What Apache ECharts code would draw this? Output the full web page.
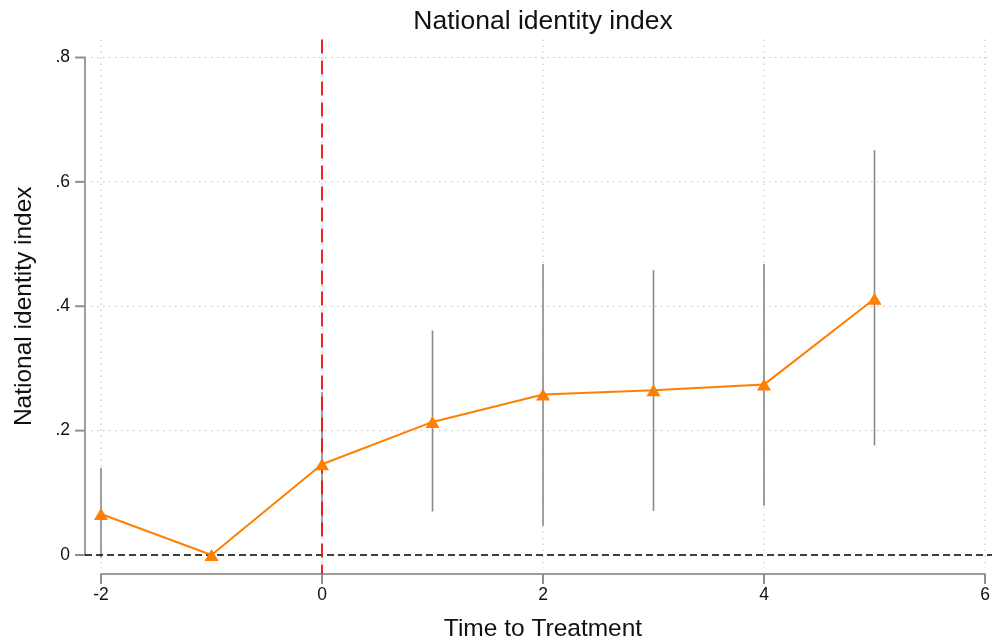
<!DOCTYPE html>
<html>
<head>
<meta charset="utf-8">
<script src="https://cdn.jsdelivr.net/npm/echarts@6/dist/echarts.min.js"></script>
<style>
  html, body { margin: 0; padding: 0; background: #fff; }
  #chart { width: 992px; height: 640px; }
</style>
</head>
<body>
<div id="chart"></div>
<script>
// Event-study estimates of the national identity index
const periods   = [-2, -1, 0, 1, 2, 3, 4, 5];
const estimates = [0.066, 0, 0.146, 0.214, 0.258, 0.265, 0.274, 0.412];
const ciLower   = [-0.004, null, 0.033, 0.070, 0.047, 0.071, 0.079, 0.176];
const ciUpper   = [0.140, null, 0.262, 0.361, 0.468, 0.458, 0.468, 0.651];

// Axis ticks
const xTicks = [-2, 0, 2, 4, 6];
const yTicks = [0, 0.2, 0.4, 0.6, 0.8];
const yGridTicks = [0.2, 0.4, 0.6, 0.8];
const treatmentStart = 0;

const FONT = '"Liberation Sans", Arial, Helvetica, sans-serif';
const AXIS_GREY = '#9e9e9e';
const TICK_GREY = '#8f8f8f';
const X_OFFSET = 19;   // x axis sits below the plotted range
const Y_OFFSET = 16;   // y axis sits left of the plotted range
const TICK_LEN = 10;

const chart = echarts.init(document.getElementById('chart'), null, { renderer: 'canvas' });

const pointData = periods.map((p, i) => [p, estimates[i]]);
const ciData = periods
  .map((p, i) => [p, ciLower[i], ciUpper[i]])
  .filter(d => d[1] !== null);

// vertical grid lines first, then horizontal ones
const gridData = xTicks.map(v => [v, 0]).concat(yGridTicks.map(v => [-2, v]));
// x ticks first, then y ticks
const tickData = xTicks.map(v => [v, 0]).concat(yTicks.map(v => [-2, v]));

function yLabel(v) {
  if (v === 0) return '0';
  return String(Math.round(v * 10) / 10).replace(/^0\./, '.');
}

chart.setOption({
  animation: false,
  title: {
    text: 'National identity index',
    left: 538, top: 3, textAlign: 'center',
    textStyle: { fontFamily: FONT, fontSize: 26.5, fontWeight: 'normal', color: '#111' }
  },
  grid: { left: 101, right: 7, top: 57.5, bottom: 85, containLabel: false, outerBoundsMode: 'none' },
  xAxis: {
    type: 'value', min: -2, max: 6, interval: 2, offset: X_OFFSET,
    name: 'Time to Treatment', nameLocation: 'middle', nameGap: 43,
    nameTextStyle: { fontFamily: FONT, fontSize: 24.5, color: '#111' },
    axisLine: { show: true, onZero: false, lineStyle: { color: AXIS_GREY, width: 2 } },
    axisTick: { show: false },
    axisLabel: { fontFamily: FONT, fontSize: 17.5, color: '#111', margin: 12 },
    splitLine: { show: false }
  },
  yAxis: {
    type: 'value', min: 0, max: 0.8, interval: 0.2, offset: Y_OFFSET,
    name: 'National identity index', nameLocation: 'middle', nameGap: 48,
    nameTextStyle: { fontFamily: FONT, fontSize: 24.5, color: '#111' },
    axisLine: { show: true, onZero: false, lineStyle: { color: AXIS_GREY, width: 2 } },
    axisTick: { show: false },
    axisLabel: { fontFamily: FONT, fontSize: 17.5, color: '#111', margin: 15, formatter: yLabel },
    splitLine: { show: false }
  },
  series: [
    {
      // dotted reference grid, extending a little past the axis range
      type: 'custom', silent: true, clip: false, z: 1,
      data: gridData,
      renderItem: function (params, api) {
        const isX = params.dataIndex < xTicks.length;
        let shape;
        if (isX) {
          const v = api.value(0);
          const top = api.coord([v, 0.8]);
          const bot = api.coord([v, 0]);
          shape = { x1: top[0], y1: top[1] - 18, x2: bot[0], y2: bot[1] + 13 };
        } else {
          const v = api.value(1);
          const l = api.coord([-2, v]);
          const r = api.coord([6, v]);
          shape = { x1: l[0] - 10, y1: l[1], x2: r[0] + 5, y2: r[1] };
        }
        return {
          type: 'line', shape: shape,
          style: { stroke: '#bdbdbd', lineWidth: 1, lineDash: [1.5, 4.5] }
        };
      }
    },
    {
      // outward tick marks on the offset axes
      type: 'custom', silent: true, clip: false, z: 6,
      data: tickData,
      renderItem: function (params, api) {
        const isX = params.dataIndex < xTicks.length;
        const p = api.coord([api.value(0), api.value(1)]);
        let shape;
        if (isX) {
          const y = p[1] + X_OFFSET;
          shape = { x1: p[0], y1: y, x2: p[0], y2: y + TICK_LEN };
        } else {
          const x = p[0] - Y_OFFSET;
          shape = { x1: x, y1: p[1], x2: x - TICK_LEN, y2: p[1] };
        }
        return {
          type: 'line', shape: shape,
          style: { stroke: TICK_GREY, lineWidth: 2 }
        };
      }
    },
    {
      // confidence intervals
      type: 'custom', silent: true, clip: false, z: 2,
      data: ciData,
      renderItem: function (params, api) {
        const lo = api.coord([api.value(0), api.value(1)]);
        const hi = api.coord([api.value(0), api.value(2)]);
        return {
          type: 'line',
          shape: { x1: lo[0], y1: lo[1], x2: hi[0], y2: hi[1] },
          style: { stroke: '#8a8a8a', lineWidth: 1.6 }
        };
      }
    },
    {
      // zero line and treatment start
      type: 'custom', silent: true, clip: false, z: 3,
      data: [[-2, 0], [treatmentStart, 0]],
      renderItem: function (params, api) {
        if (params.dataIndex === 0) {
          const l = api.coord([-2, 0]);
          const r = api.coord([6, 0]);
          return {
            type: 'line',
            shape: { x1: l[0] - 16, y1: l[1], x2: r[0] + 7, y2: r[1] },
            style: { stroke: '#000', lineWidth: 1.5, lineDash: [7, 4] }
          };
        }
        const t = api.coord([treatmentStart, 0.8]);
        const b = api.coord([treatmentStart, 0]);
        return {
          type: 'line',
          shape: { x1: t[0], y1: t[1] - 18, x2: b[0], y2: b[1] + 25 },
          style: { stroke: '#f01010', lineWidth: 1.8, lineDash: [14, 7] }
        };
      }
    },
    {
      type: 'line', z: 5, clip: false,
      data: pointData,
      lineStyle: { color: '#ff7f00', width: 2 },
      itemStyle: { color: '#ff7f00' },
      symbol: 'triangle', symbolSize: [14, 12],
      showAllSymbol: true
    }
  ]
});
</script>
</body>
</html>
